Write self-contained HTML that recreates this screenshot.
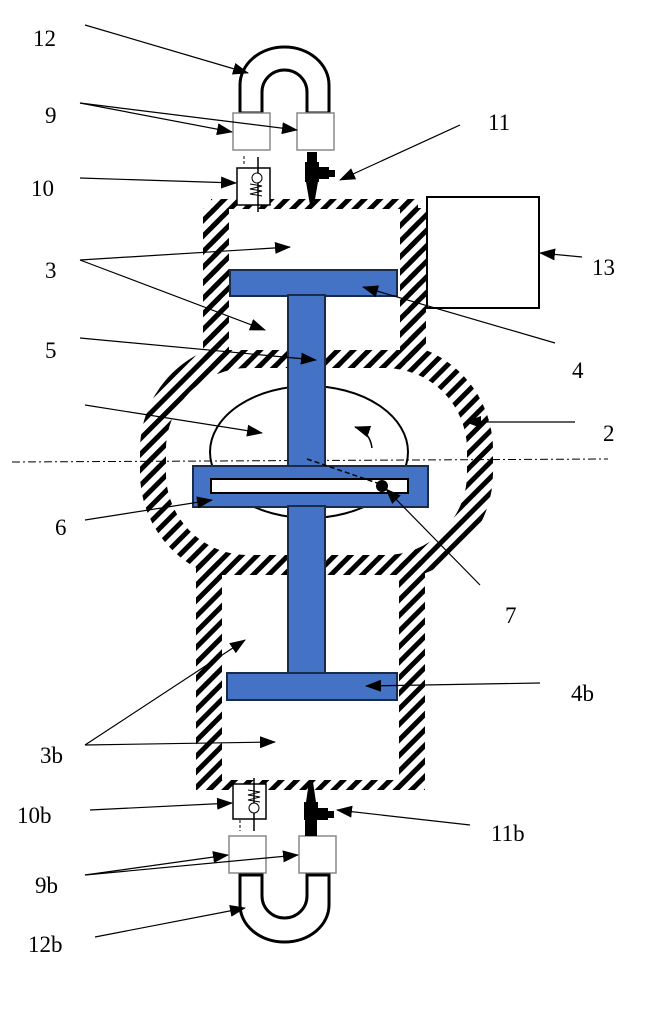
<!DOCTYPE html>
<html><head><meta charset="utf-8"><style>
html,body{margin:0;padding:0;background:#fff}
svg{display:block}
text{font-family:"Liberation Serif",serif;font-size:23px;fill:#000}
</style></head><body>
<svg width="663" height="1024" viewBox="0 0 663 1024" xmlns="http://www.w3.org/2000/svg">
<defs>
<pattern id="h" patternUnits="userSpaceOnUse" width="11" height="11" patternTransform="rotate(45)">
<rect x="0" y="0" width="5" height="11" fill="#000"/>
</pattern>
<marker id="a" markerWidth="16" markerHeight="12" refX="15" refY="6" orient="auto" markerUnits="userSpaceOnUse">
<path d="M0,0 L16,6 L0,12 Z" fill="#000"/>
</marker>
</defs>

<!-- housing hatching -->
<g fill="none" stroke="url(#h)">
<rect x="216" y="204" width="197" height="165" stroke-width="10"/>
<line x1="216" y1="208" x2="216" y2="360" stroke-width="26"/>
<line x1="413" y1="208" x2="413" y2="360" stroke-width="26"/>
<rect x="153" y="355" width="327" height="213" rx="95" ry="95" stroke-width="26"/>
<line x1="209" y1="560" x2="209" y2="790" stroke-width="26"/>
<line x1="412" y1="560" x2="412" y2="790" stroke-width="26"/>
<line x1="209" y1="785" x2="412" y2="785" stroke-width="10"/>
</g>
<!-- clear interiors -->
<rect x="229" y="210" width="171" height="140" fill="#fff"/>
<rect x="166" y="368" width="301" height="187" rx="82" fill="#fff"/>
<rect x="222" y="575" width="177" height="204" fill="#fff"/>

<!-- box 13 -->
<rect x="427" y="197" width="112" height="111" fill="#fff" stroke="#000" stroke-width="2"/>

<!-- ellipse -->
<ellipse cx="309" cy="452" rx="99" ry="66" fill="none" stroke="#000" stroke-width="2"/>
<line x1="12" y1="462" x2="608" y2="459" stroke="#000" stroke-width="1" stroke-dasharray="8,3,2,3"/>

<!-- blue I beam -->
<g fill="#4472C4" stroke="#1a2a4a" stroke-width="2">
<rect x="230" y="270" width="167" height="26"/>
<rect x="288" y="295" width="37" height="172"/>
<rect x="193" y="466" width="235" height="41"/>
<rect x="288" y="506" width="37" height="168"/>
<rect x="227" y="673" width="170" height="27"/>
</g>
<rect x="211" y="479" width="197" height="14" fill="#fff" stroke="#000" stroke-width="2"/>
<line x1="307" y1="459" x2="380" y2="484" stroke="#000" stroke-width="1.5" stroke-dasharray="5,3"/>
<circle cx="382" cy="486" r="6" fill="#000"/>
<path d="M372,448 Q370,432 355,427" fill="none" stroke="#000" stroke-width="1.5" marker-end="url(#a)"/>

<!-- top U tube -->
<path d="M240,113 L240,85 A44.5,38 0 0 1 329,85 L329,113 L307,113 L307,92 A22.5,22 0 0 0 262,92 L262,113 Z" fill="#fff" stroke="#000" stroke-width="3"/>
<rect x="233" y="113" width="37" height="37" fill="#fff" stroke="#888" stroke-width="1.5"/>
<rect x="297" y="113" width="37" height="37" fill="#fff" stroke="#888" stroke-width="1.5"/>
<line x1="244" y1="156" x2="244" y2="165" stroke="#000" stroke-dasharray="3,2"/>
<rect x="237" y="168" width="33" height="37" fill="#fff" stroke="#000" stroke-width="1.5"/>
<line x1="258" y1="157" x2="258" y2="212" stroke="#000" stroke-width="1.5"/>
<circle cx="257" cy="178" r="5" fill="#fff" stroke="#000"/>
<path d="M250,184 l12,2 l-12,3 l12,2 l-12,3 l12,2" fill="none" stroke="#000"/>
<g fill="#000">
<rect x="307" y="152" width="10" height="10"/>
<rect x="305" y="162" width="14" height="20"/>
<rect x="319" y="167" width="10" height="12"/>
<rect x="329" y="170" width="6" height="7"/>
<path d="M306,182 L318,182 L314,205 L310,205 Z"/>
</g>

<!-- bottom U tube -->
<rect x="229" y="836" width="37" height="37" fill="#fff" stroke="#888" stroke-width="1.5"/>
<rect x="299" y="836" width="37" height="37" fill="#fff" stroke="#888" stroke-width="1.5"/>
<path d="M240,875 L240,905 A44.5,37 0 0 0 329,905 L329,875 L307,875 L307,896 A22.5,22 0 0 1 262,896 L262,875 Z" fill="#fff" stroke="#000" stroke-width="3"/>
<rect x="233" y="784" width="33" height="35" fill="#fff" stroke="#000" stroke-width="1.5"/>
<line x1="254" y1="778" x2="254" y2="831" stroke="#000" stroke-width="1.5"/>
<line x1="240" y1="820" x2="240" y2="831" stroke="#000" stroke-dasharray="3,2"/>
<circle cx="254" cy="808" r="5" fill="#fff" stroke="#000"/>
<path d="M248,790 l12,2 l-12,3 l12,2 l-12,3 l12,2" fill="none" stroke="#000"/>
<g fill="#000">
<path d="M309,782 L313,782 L316,802 L306,802 Z"/>
<rect x="304" y="802" width="14" height="18"/>
<rect x="318" y="808" width="10" height="12"/>
<rect x="328" y="811" width="6" height="7"/>
<rect x="305" y="820" width="12" height="16"/>
</g>

<!-- leader arrows -->
<g stroke="#000" stroke-width="1.2" marker-end="url(#a)">
<line x1="85" y1="25" x2="248" y2="73"/>
<line x1="80" y1="103" x2="232" y2="132"/>
<line x1="80" y1="103" x2="297" y2="130"/>
<line x1="460" y1="125" x2="340" y2="180"/>
<line x1="80" y1="178" x2="236" y2="183"/>
<line x1="582" y1="257" x2="540" y2="253"/>
<line x1="80" y1="260" x2="290" y2="247"/>
<line x1="80" y1="260" x2="265" y2="330"/>
<line x1="555" y1="343" x2="363" y2="287"/>
<line x1="80" y1="338" x2="316" y2="360"/>
<line x1="575" y1="422" x2="466" y2="422"/>
<line x1="85" y1="405" x2="262" y2="433"/>
<line x1="85" y1="520" x2="212" y2="500"/>
<line x1="480" y1="585" x2="386" y2="489"/>
<line x1="540" y1="683" x2="366" y2="686"/>
<line x1="85" y1="745" x2="245" y2="640"/>
<line x1="85" y1="745" x2="275" y2="742"/>
<line x1="90" y1="810" x2="232" y2="803"/>
<line x1="470" y1="825" x2="337" y2="810"/>
<line x1="85" y1="875" x2="228" y2="855"/>
<line x1="85" y1="875" x2="298" y2="855"/>
<line x1="95" y1="937" x2="245" y2="908"/>
</g>

<text x="33" y="46">12</text>
<text x="45" y="123">9</text>
<text x="488" y="130">11</text>
<text x="31" y="196">10</text>
<text x="45" y="278">3</text>
<text x="592" y="275">13</text>
<text x="45" y="358">5</text>
<text x="572" y="378">4</text>
<text x="603" y="441">2</text>
<text x="55" y="535">6</text>
<text x="505" y="623">7</text>
<text x="571" y="701">4b</text>
<text x="40" y="763">3b</text>
<text x="17" y="823">10b</text>
<text x="491" y="841">11b</text>
<text x="35" y="893">9b</text>
<text x="28" y="952">12b</text>
</svg>
</body></html>
